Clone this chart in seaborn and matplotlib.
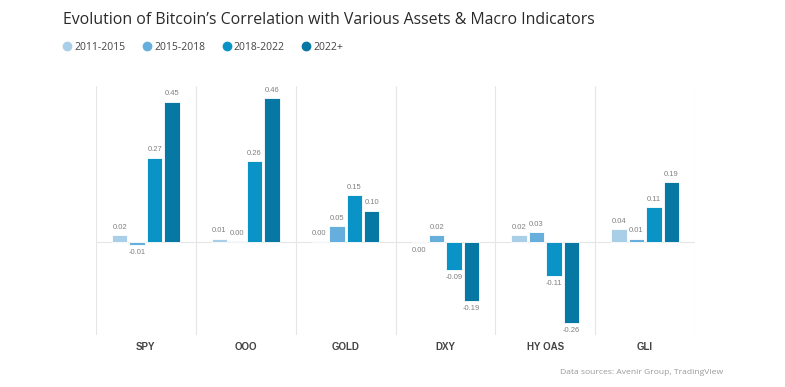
import matplotlib
matplotlib.use("Agg")
import matplotlib.pyplot as plt
from matplotlib.lines import Line2D
import seaborn as sns
import pandas as pd

categories = ["SPY", "OOO", "GOLD", "DXY", "HY OAS", "GLI"]
periods = ["2011-2015", "2015-2018", "2018-2022", "2022+"]
v_2011_2015 = [0.02, 0.01, 0.002, -0.003, 0.02, 0.04]
v_2015_2018 = [-0.01, 0.003, 0.05, 0.02, 0.03, 0.01]
v_2018_2022 = [0.27, 0.26, 0.15, -0.09, -0.11, 0.11]
v_2022_plus = [0.45, 0.46, 0.10, -0.19, -0.26, 0.19]
colors = ["#a9cfe8", "#66afdc", "#0a93c6", "#0777a4"]

series = [v_2011_2015, v_2015_2018, v_2018_2022, v_2022_plus]
rows = []
for p, vals in zip(periods, series):
    for c, v in zip(categories, vals):
        rows.append({"category": c, "period": p, "value": v})
df = pd.DataFrame(rows)

sns.set_theme(style="white")
plt.rcParams["font.family"] = ["Open Sans", "DejaVu Sans"]

fig = plt.figure(figsize=(7.85, 3.87), dpi=100)
ax = fig.add_axes([96/785, 1-335/387, (695-96)/785, (335-86)/387])

sns.barplot(data=df, x="category", y="value", hue="period", order=categories,
            hue_order=periods, palette=colors, saturation=1, width=0.7, gap=0.12,
            edgecolor="white", linewidth=0.6, ax=ax, legend=False, errorbar=None)

def fmt(v):
    s = f"{v:.2f}"
    return "0.00" if s == "-0.00" else s

for cont in ax.containers:
    labels = [fmt(b.get_height()) for b in cont]
    ax.bar_label(cont, labels=labels, padding=3, fontsize=5.5, color="#808080",
                 family=["Liberation Sans"])

ax.set_xlim(-0.5, 5.5)
ax.set_ylim(-0.3, 0.5)
for x in [-0.5, 0.5, 1.5, 2.5, 3.5, 4.5, 5.5]:
    ax.axvline(x, color="#e6e6e6", lw=0.8, zorder=0)
ax.axhline(0, color="#e6e6e6", lw=0.8, zorder=0)
for s in ax.spines.values():
    s.set_visible(False)
ax.set_yticks([])
ax.set_xlabel("")
ax.set_ylabel("")
ax.tick_params(axis="x", length=0, pad=5)
for t in ax.get_xticklabels():
    t.set_fontsize(7)
    t.set_fontweight("bold")
    t.set_color("#444444")
    t.set_family(["Liberation Sans"])

fig.text(63/785, 1-20/387, "Evolution of Bitcoin\u2019s Correlation with Various Assets & Macro Indicators",
         fontsize=11.4, color="#2a2a2a", va="center", ha="left")

handles = [Line2D([], [], marker="o", linestyle="", markersize=6,
                  markerfacecolor=c, markeredgecolor=c) for c in colors]
fig.legend(handles, periods, loc="center left", bbox_to_anchor=(57/785, 1-47/387),
           ncol=4, frameon=False, fontsize=7.5, handletextpad=0.05, columnspacing=1.5,
           labelcolor="#444444", handlelength=1.2, borderaxespad=0)

fig.text(723/785, 1-373/387, "Data sources: Avenir Group, TradingView", fontsize=6.1,
         color="#999999", ha="right", va="center")

fig.savefig("out.png", dpi=100, facecolor="white")
